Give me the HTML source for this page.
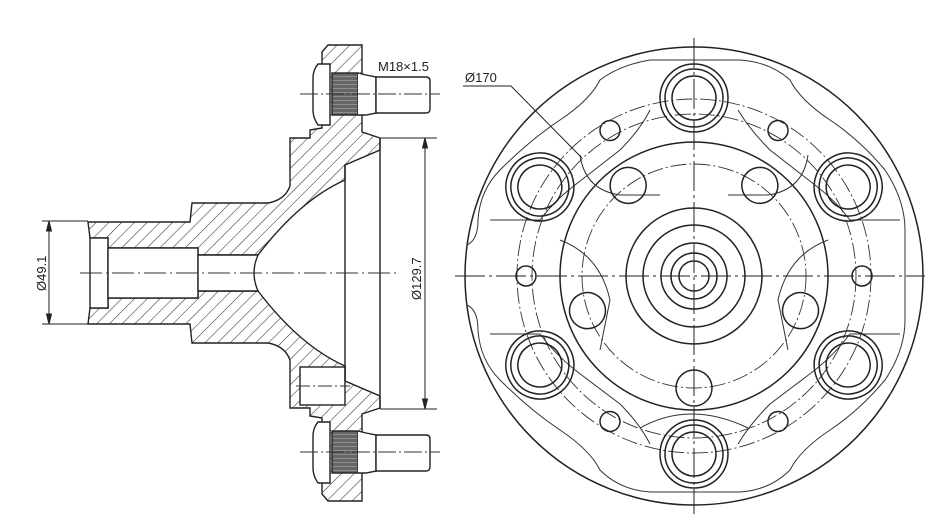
<!DOCTYPE html>
<html><head><meta charset="utf-8"><style>
html,body{margin:0;padding:0;background:#fff;}
svg{display:block;}
text{font-family:"Liberation Sans",sans-serif;fill:#222;}
</style></head><body>
<svg width="952" height="529" viewBox="0 0 952 529" xmlns="http://www.w3.org/2000/svg">
<defs>
<pattern id="h" width="9" height="9" patternUnits="userSpaceOnUse" patternTransform="rotate(45)">
<rect width="9" height="9" fill="#fff"/><line x1="0" y1="0" x2="0" y2="9" stroke="#333" stroke-width="1.1"/>
</pattern>
<pattern id="k" width="4" height="4" patternUnits="userSpaceOnUse">
<rect width="4" height="4" fill="#666"/><line x1="0" y1="0" x2="4" y2="0" stroke="#ccc" stroke-width="0.8"/>
</pattern>
<g id="bolt">
<path d="M318,64 L330,64 L330,125 L318,125 Q313,118 313,110 L313,78 Q313,70 318,64 Z" fill="#fff" stroke="#222" stroke-width="1.4"/>
<rect x="332" y="73" width="26" height="42" fill="url(#k)" stroke="#222" stroke-width="1.4"/>
<path d="M358,73 L366,75 L376,77 L376,113 L366,115 L358,115" fill="#fff" stroke="#222" stroke-width="1.4"/>
<path d="M376,77 L426,77 Q430,77 430,81 L430,109 Q430,113 426,113 L376,113 Z" fill="#fff" stroke="#222" stroke-width="1.4"/>
<line x1="300" y1="94" x2="440" y2="94" stroke="#333" stroke-width="0.9" stroke-dasharray="18,3,2,3"/>
</g>
</defs>

<!-- LEFT VIEW -->
<g stroke="#222" stroke-width="1.4" fill="url(#h)">
<path d="M322,52 L328,45 L362,45 L362,132 L380,138 L380,150 L345,165 L345,180 Q300,200 258,255 L198,255 L198,248 L108,248 L108,238 L90,238 L88,222 L190,222 L192,203 L268,203 Q285,200 290,186 L290,138 L310,138 L310,130 L322,128 Z"/>
<path d="M322,494 L328,501 L362,501 L362,414 L380,408 L380,396 L345,381 L345,366 Q300,346 258,291 L198,291 L198,298 L108,298 L108,308 L90,308 L88,324 L190,324 L192,343 L268,343 Q285,346 290,360 L290,408 L310,408 L310,416 L322,418 Z"/>
</g>
<rect x="300" y="367" width="45" height="38" fill="#fff" stroke="#222" stroke-width="1.4"/>
<line x1="296" y1="386" x2="350" y2="386" stroke="#333" stroke-width="0.9" stroke-dasharray="14,3,2,3"/>
<rect x="90" y="238" width="18" height="70" fill="#fff" stroke="#222" stroke-width="1.4"/>
<rect x="108" y="248" width="90" height="50" fill="#fff" stroke="#222" stroke-width="1.4"/>
<path d="M198,255 L258,255 Q250,273 258,291 L198,291 Z" fill="#fff" stroke="#222" stroke-width="1.4"/>
<line x1="345" y1="165" x2="345" y2="381" stroke="#222" stroke-width="1.4"/>
<line x1="380" y1="138" x2="380" y2="408" stroke="#222" stroke-width="1.4"/>
<use href="#bolt"/>
<use href="#bolt" transform="translate(0,358)"/>
<line x1="80" y1="273" x2="400" y2="273" stroke="#333" stroke-width="0.9" stroke-dasharray="22,4,2,4"/>
<!-- dims -->
<g stroke="#222" stroke-width="1">
<line x1="42" y1="221" x2="88" y2="221"/><line x1="42" y1="324" x2="88" y2="324"/>
<line x1="49" y1="221" x2="49" y2="324"/>
<path d="M49,221 l-2.5,10 h5 z M49,324 l-2.5,-10 h5 z" fill="#222"/>
<line x1="380" y1="138" x2="437" y2="138"/><line x1="380" y1="409" x2="437" y2="409"/>
<line x1="425" y1="138" x2="425" y2="409"/>
<path d="M425,138 l-2.5,10 h5 z M425,409 l-2.5,-10 h5 z" fill="#222"/>
</g>
<text x="0" y="0" font-size="13" transform="translate(46,291) rotate(-90)">Ø49.1</text>
<text x="0" y="0" font-size="13" transform="translate(421,300) rotate(-90)">Ø129.7</text>
<text x="378" y="71" font-size="13">M18×1.5</text>

<!-- RIGHT VIEW -->
<g fill="none" stroke="#222" stroke-width="1.5">
<circle cx="694" cy="276" r="229"/>
<circle cx="694" cy="276" r="134"/>
<circle cx="694" cy="276" r="68"/>
<circle cx="694" cy="276" r="51"/>
<circle cx="694" cy="276" r="33"/>
<circle cx="694" cy="276" r="23"/>
<circle cx="694" cy="276" r="15"/>
</g>
<g fill="none" stroke="#333" stroke-width="1">
<path d="M467,245 Q478,240 478,220 Q480,190 500,170 Q530,140 560,120 Q590,100 600,80 Q620,65 650,60 L740,60 Q770,62 790,80 Q800,100 830,120 Q860,140 885,170 Q905,200 905,230 L905,320 Q905,350 885,380 Q860,410 830,430 Q800,450 790,470 Q770,490 740,492 L650,492 Q620,490 600,470 Q590,450 560,430 Q530,410 500,380 Q480,360 478,330 Q478,310 467,305"/>
<path d="M490,220 L540,220 Q555,200 575,185 L620,150 Q640,130 650,110 M738,110 Q750,130 770,150 L815,185 Q835,200 850,220 L900,220 M490,334 L540,334 Q555,354 575,370 L620,404 Q640,424 650,444 M738,444 Q750,424 770,404 L815,370 Q835,354 850,334 L900,334"/>
<path d="M580,155 Q585,190 620,195 L660,195 M808,155 Q803,190 768,195 L728,195 M560,240 Q600,255 610,300 L600,350 M828,240 Q788,255 778,300 L788,350 M640,428 Q690,400 748,428"/>
</g>
<g fill="none" stroke="#333" stroke-width="0.9" stroke-dasharray="16,3,2,3">
<circle cx="694" cy="276" r="177"/>
<circle cx="694" cy="276" r="162"/>
<circle cx="694" cy="276" r="112"/>
</g>
<g fill="none" stroke="#222" stroke-width="1.5">
<!-- bolts -->
<g id="b1"><circle cx="694" cy="98" r="34"/><circle cx="694" cy="98" r="29"/><circle cx="694" cy="98" r="22"/></g>
<use href="#b1" transform="rotate(60 694 276)"/>
<use href="#b1" transform="rotate(120 694 276)"/>
<use href="#b1" transform="rotate(180 694 276)"/>
<use href="#b1" transform="rotate(240 694 276)"/>
<use href="#b1" transform="rotate(300 694 276)"/>
<!-- medium holes -->
<g id="m1"><circle cx="694" cy="388" r="18"/></g>
<use href="#m1" transform="rotate(72 694 276)"/>
<use href="#m1" transform="rotate(144 694 276)"/>
<use href="#m1" transform="rotate(216 694 276)"/>
<use href="#m1" transform="rotate(288 694 276)"/>
<!-- small holes -->
<g id="s1"><circle cx="862" cy="276" r="10"/></g>
<use href="#s1" transform="rotate(60 694 276)"/>
<use href="#s1" transform="rotate(120 694 276)"/>
<use href="#s1" transform="rotate(180 694 276)"/>
<use href="#s1" transform="rotate(240 694 276)"/>
<use href="#s1" transform="rotate(300 694 276)"/>
</g>
<g stroke="#222" stroke-width="1" stroke-dasharray="30,4,3,4">
<line x1="455" y1="276" x2="925" y2="276"/>
<line x1="694" y1="38" x2="694" y2="514"/>
</g>
<g stroke="#222" stroke-width="1" fill="none">
<path d="M463,86 L511,86 L582,158"/>
</g>
<text x="465" y="82" font-size="13">Ø170</text>
</svg>
</body></html>
